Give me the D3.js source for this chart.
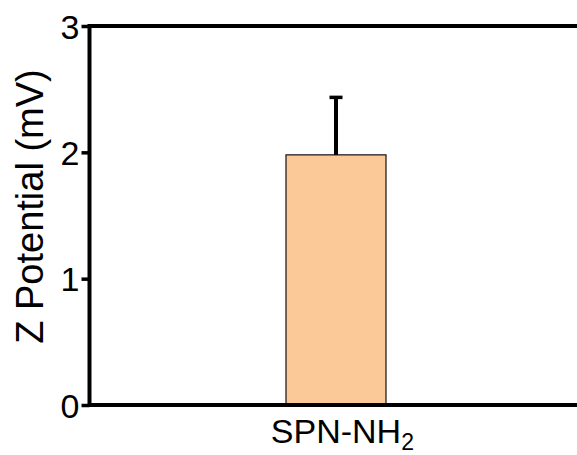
<!DOCTYPE html>
<html>
<head>
<meta charset="utf-8">
<script src="https://cdn.jsdelivr.net/npm/d3@7"></script>
<style>
  html, body { margin: 0; padding: 0; background: #fff; }
  svg { display: block; }
  text { font-family: "Liberation Sans", Arial, sans-serif; fill: #000; }
</style>
</head>
<body>
<svg id="chart" width="577" height="455"></svg>
<script>
// Zeta potential of the amine-functionalised nanoparticles
const categories = ["SPN-NH2"];
const categoryMain = ["SPN-NH"];
const categorySub = ["2"];
const meanValues = [1.98];
const errorValues = [0.455];
const yTicks = [0, 1, 2, 3];

const W = 577, H = 455;
const axisX = 89.5;
const plotTop = 26, plotBottom = 405;
const svg = d3.select("#chart");

const y = d3.scaleLinear().domain([0, 3]).range([plotBottom, plotTop]);
const x = d3.scaleBand()
  .domain(categories)
  .range([axisX, 582.5])
  .paddingInner(0)
  .paddingOuter(1.965);

// Bars
svg.selectAll("rect.bar")
  .data(categories)
  .join("rect")
  .attr("class", "bar")
  .attr("x", d => x(d))
  .attr("y", (d, i) => y(meanValues[i]))
  .attr("width", x.bandwidth())
  .attr("height", (d, i) => y(0) - y(meanValues[i]))
  .attr("fill", "#FAC997")
  .attr("stroke", "#111")
  .attr("stroke-width", 1.2);

// Error bars (upper only)
const eb = svg.selectAll("g.err").data(categories).join("g").attr("class", "err");
eb.append("line")
  .attr("x1", d => x(d) + x.bandwidth() / 2)
  .attr("x2", d => x(d) + x.bandwidth() / 2)
  .attr("y1", (d, i) => y(meanValues[i]))
  .attr("y2", (d, i) => y(meanValues[i] + errorValues[i]))
  .attr("stroke", "#000").attr("stroke-width", 4);
eb.append("line")
  .attr("x1", d => x(d) + x.bandwidth() / 2 - 6.5)
  .attr("x2", d => x(d) + x.bandwidth() / 2 + 6.5)
  .attr("y1", (d, i) => y(meanValues[i] + errorValues[i]))
  .attr("y2", (d, i) => y(meanValues[i] + errorValues[i]))
  .attr("stroke", "#000").attr("stroke-width", 3.5);

// Top frame line
svg.append("line")
  .attr("x1", axisX).attr("x2", W)
  .attr("y1", y(3)).attr("y2", y(3))
  .attr("stroke", "#000").attr("stroke-width", 4);

// Bottom axis line
svg.append("line")
  .attr("x1", axisX).attr("x2", W)
  .attr("y1", y(0)).attr("y2", y(0))
  .attr("stroke", "#000").attr("stroke-width", 4);

// Left axis
const yAxis = svg.append("g")
  .attr("transform", `translate(${axisX},0)`)
  .call(d3.axisLeft(y).tickValues(yTicks).tickFormat(d3.format("d"))
    .tickSizeInner(8).tickSizeOuter(0).tickPadding(2));
yAxis.select(".domain")
  .attr("stroke", "#000").attr("stroke-width", 4)
  .attr("d", `M0,${y(3) - 2}V${y(0) + 2}`);
yAxis.selectAll(".tick line").attr("stroke", "#000").attr("stroke-width", 3.5);
yAxis.selectAll(".tick text")
  .attr("font-size", 34)
  .attr("font-family", "Liberation Sans, Arial, sans-serif")
  .attr("dy", "0.36em")
  .attr("fill", "#000");

// Category label with subscript; main part centred on the bar
categories.forEach((c, i) => {
  const cx = x(c) + x.bandwidth() / 2;
  const t = svg.append("text")
    .attr("y", 443)
    .attr("font-size", 34);
  const main = t.append("tspan").text(categoryMain[i]);
  t.append("tspan").attr("font-size", 23).attr("dy", 6.5).text(categorySub[i]);
  const w = main.node().getComputedTextLength();
  t.attr("x", cx - w / 2);
});

// Y axis title
svg.append("text")
  .attr("transform", `translate(43,206.5) rotate(-90)`)
  .attr("text-anchor", "middle")
  .attr("font-size", 38)
  .text("Z Potential (mV)");
</script>
</body>
</html>
